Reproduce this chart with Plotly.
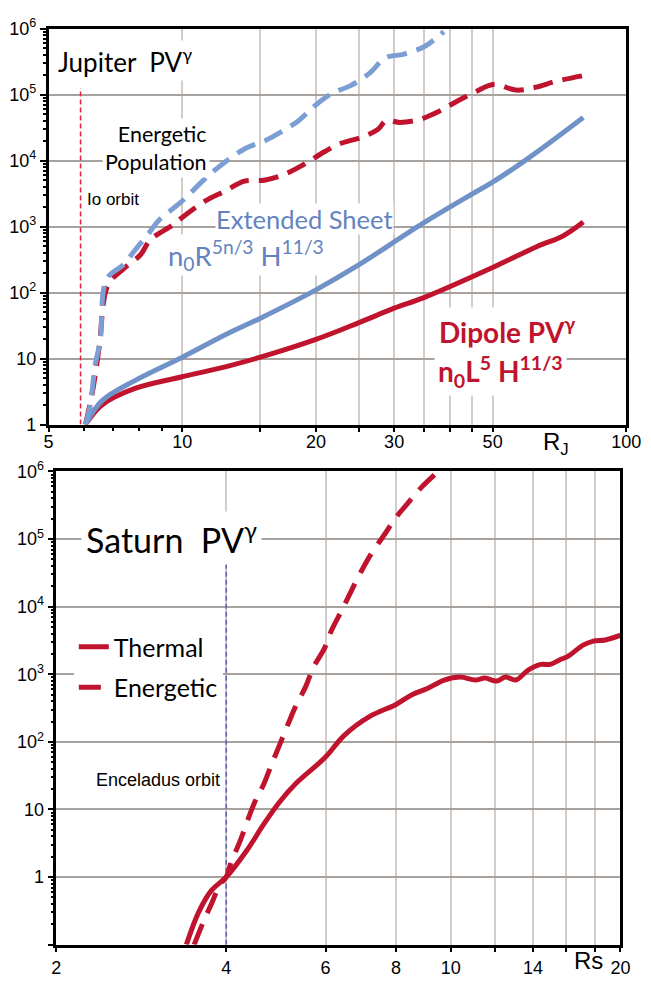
import math
import plotly.graph_objects as go

W, H = 651, 984

# ---------------- Jupiter (radial distance in R_J, PV^gamma normalised at Io) ----------------
io_orbit_rj = 5.9
io_line_pv = [1, 1.25e5]

jup_dipole_r = [6.05, 6.6, 7.8, 10, 12.5, 15, 20, 25, 30, 35, 50, 63, 72, 80]
jup_dipole_pv = [1, 2.0, 3.5, 5.3, 7.5, 10.5, 19.5, 35, 58, 84, 240, 500, 720, 1170]

jup_sheet_r = [6.05, 6.6, 7.8, 10, 12.5, 15, 20, 24.7, 34.6, 45, 50, 60, 80]
jup_sheet_pv = [1, 2.3, 4.6, 10.5, 23, 41, 110, 251, 1090, 3130, 4720, 10700, 44900]

jup_energetic_sheet_r = [6.05, 6.2, 6.37, 6.53, 6.76, 7.4, 7.78, 8.35, 8.9, 9.9, 11.6, 13.8,
                         15.3, 16.8, 18.3, 20, 21.8, 24, 26.5, 28.6, 31.6, 35.2, 38.8]
jup_energetic_sheet_pv = [1, 1.9, 8.3, 18, 161, 270, 419, 748, 1290, 2300, 6400, 15000,
                          19800, 27800, 40500, 70000, 105000, 138000, 215000, 359000,
                          412000, 541000, 903000]

jup_energetic_dipole_r = [6.05, 6.27, 6.5, 6.8, 7.36, 8.06, 8.47, 9.5, 10.2, 11.3, 12.5, 13.8,
                          15.3, 16.8, 18.6, 20.9, 22.6, 25.4, 27.6, 28.8, 30.9, 34.2, 37.7,
                          41.3, 45.6, 50.5, 56.4, 62.4, 69.2, 80]
jup_energetic_dipole_pv = [1, 3, 15, 130, 227, 378, 631, 1050, 1530, 2470, 3470, 4890,
                           5050, 6000, 8430, 13600, 17900, 22700, 29800, 40500, 37800, 41900,
                           55000, 77400, 109000, 143000, 117000, 129000, 158000, 194000]

jup_x_ticks = [5, 10, 15, 20, 25, 30, 35, 40, 45, 50, 100]
jup_x_labels = ["5", "10", "", "20", "", "30", "", "", "", "50", "100"]
jup_x_minor = [6, 7, 8, 9]

# ---------------- Saturn (radial distance in R_S) ----------------
enceladus_orbit_rs = 4.0
enceladus_line_pv = [0.1, 4.6e4]

sat_thermal_r = [3.40, 3.58, 3.77, 4.0, 4.36, 4.66, 4.97, 5.31, 6.0, 6.47, 7.2, 8.0, 8.54,
                 9.07, 9.74, 10.4, 11.05, 11.5, 12.06, 12.5, 13.05, 13.7, 14.46, 15.0,
                 15.65, 16.1, 17.2, 17.9, 18.8, 20]
sat_thermal_pv = [0.1, 0.31, 0.64, 1.0, 2.54, 6.0, 12.8, 24, 59.6, 124, 240, 358, 499,
                  610, 822, 908, 822, 879, 795, 908, 822, 1146, 1400, 1400,
                  1652, 1824, 2720, 3100, 3220, 3790]

sat_energetic_r = [3.51, 3.65, 3.77, 3.9, 4.0, 4.08, 4.22, 4.48, 4.66, 4.81, 4.97, 5.15,
                   5.31, 5.53, 5.71, 5.98, 6.15, 6.43, 6.66, 6.95, 7.24, 7.65, 7.96, 8.44,
                   8.89, 9.5]
sat_energetic_pv = [0.1, 0.224, 0.41, 0.77, 1.0, 1.65, 3.2, 12.1, 23.5, 45.7, 88.7, 184,
                    335, 651, 1266, 2460, 4480, 9290, 16900, 34000, 61800, 120000, 198000,
                    359000, 592000, 1.0e6]

sat_x_ticks = [2, 4, 6, 8, 10, 12, 14, 16, 18, 20]
sat_x_labels = ["2", "4", "6", "8", "10", "", "14", "", "", "20"]

decades_jup = [1, 10, 100, 1e3, 1e4, 1e5, 1e6]
decades_sat = [0.1, 1, 10, 100, 1e3, 1e4, 1e5, 1e6]
decade_labels_sat = ["", "1", "10", "10<sup>2</sup>", "10<sup>3</sup>", "10<sup>4</sup>",
                     "10<sup>5</sup>", "10<sup>6</sup>"]
decade_labels_jup = decade_labels_sat[1:]

# ---------------- styling ----------------
RED = "#c0142e"
IO_RED = "#e3203d"
BLUE = "#7092c6"
BLUE_D = "#7b9ed4"
TEXT_BLUE = "#6383c0"
ENC_BLUE = "#5b5fb3"
GRID_H = "#a7a29e"
GRID_V = "#d2cdca"
SANS = "Liberation Sans, Arial, sans-serif"
HUMANIST = "Lato, Open Sans, sans-serif"


def fx(p):
    return p / W


def fy(p):
    return 1 - p / H


def minor_log(lo, hi):
    vals = []
    for e in range(lo, hi):
        for k in range(2, 10):
            vals.append(k * 10 ** e)
    return vals


fig = go.Figure()

spl = dict(shape="spline", smoothing=1.0)

# Jupiter panel
fig.add_trace(go.Scatter(x=[io_orbit_rj, io_orbit_rj], y=io_line_pv, mode="lines",
                         line=dict(color=IO_RED, width=1.5, dash="5px,3px"),
                         xaxis="x", yaxis="y", showlegend=False))
fig.add_trace(go.Scatter(x=jup_energetic_dipole_r, y=jup_energetic_dipole_pv, mode="lines",
                         line=dict(color=RED, width=5, dash="20px,10px", **spl),
                         xaxis="x", yaxis="y", showlegend=False))
fig.add_trace(go.Scatter(x=jup_dipole_r, y=jup_dipole_pv, mode="lines",
                         line=dict(color=RED, width=5, **spl),
                         xaxis="x", yaxis="y", showlegend=False))
fig.add_trace(go.Scatter(x=jup_sheet_r, y=jup_sheet_pv, mode="lines",
                         line=dict(color=BLUE, width=5, **spl),
                         xaxis="x", yaxis="y", showlegend=False))
fig.add_trace(go.Scatter(x=jup_energetic_sheet_r, y=jup_energetic_sheet_pv, mode="lines",
                         line=dict(color=BLUE_D, width=5, dash="20px,10px", **spl),
                         xaxis="x", yaxis="y", showlegend=False))

# Saturn panel
fig.add_trace(go.Scatter(x=[enceladus_orbit_rs, enceladus_orbit_rs], y=enceladus_line_pv,
                         mode="lines", line=dict(color=ENC_BLUE, width=1.5, dash="5px,3px"),
                         xaxis="x2", yaxis="y2", showlegend=False))
fig.add_trace(go.Scatter(x=sat_thermal_r, y=sat_thermal_pv, mode="lines", name="Thermal",
                         legendgroup="thermal",
                         line=dict(color=RED, width=5, **spl),
                         xaxis="x2", yaxis="y2"))
fig.add_trace(go.Scatter(x=sat_energetic_r, y=sat_energetic_pv, mode="lines", name="Energetic",
                         legendgroup="energetic",
                         line=dict(color=RED, width=5, dash="22px,12px", **spl),
                         xaxis="x2", yaxis="y2"))

tick_font = dict(family=SANS, size=18, color="black")
axis_common = dict(type="log", showline=True, linecolor="black", linewidth=2.5, mirror=True,
                   ticks="outside", tickwidth=2, tickcolor="black", tickfont=tick_font,
                   zeroline=False, showgrid=True, gridwidth=2)

fig.update_layout(
    width=W, height=H, margin=dict(l=0, r=0, t=0, b=0),
    paper_bgcolor="white", plot_bgcolor="white",
    xaxis=dict(axis_common, domain=[fx(45), fx(641)], range=[math.log10(5), 2], anchor="y",
               tickmode="array", tickvals=jup_x_ticks, ticktext=jup_x_labels, ticklen=5,
               ticklabelstandoff=-6, gridcolor=GRID_V,
               minor=dict(tickvals=jup_x_minor, ticks="outside", ticklen=4, tickwidth=1.5,
                          tickcolor="black", showgrid=False)),
    yaxis=dict(axis_common, domain=[fy(422), fy(17)], range=[0, 6], anchor="x",
               tickmode="array", tickvals=decades_jup, ticktext=decade_labels_jup, ticklen=6,
               gridcolor=GRID_H,
               minor=dict(tickvals=minor_log(0, 6), ticks="outside", ticklen=3, tickwidth=1.5,
                          tickcolor="black", showgrid=False)),
    xaxis2=dict(axis_common, domain=[fx(53), fx(635)], range=[math.log10(2), math.log10(20)],
                anchor="y2", tickmode="array", tickvals=sat_x_ticks, ticktext=sat_x_labels,
                ticklen=5, gridcolor=GRID_V),
    yaxis2=dict(axis_common, domain=[fy(954), fy(470)], range=[-1, 6], anchor="x2",
                tickmode="array", tickvals=decades_sat, ticktext=decade_labels_sat, ticklen=6,
                gridcolor=GRID_H,
                minor=dict(tickvals=minor_log(-1, 6), ticks="outside", ticklen=3,
                           tickwidth=1.5, tickcolor="black", showgrid=False)),
    legend=dict(x=fx(71), y=fy(626), xanchor="left", yanchor="top", bgcolor="white",
                font=dict(family=HUMANIST, size=25, color="black"),
                traceorder="grouped", tracegroupgap=5, itemwidth=30),
)


def note(text, x, y, size, color="black", family=HUMANIST, xanchor="left", bg=None,
         align="left", pad=2):
    fig.add_annotation(text=text, x=fx(x), y=fy(y), xref="paper", yref="paper",
                       xanchor=xanchor, yanchor="middle", showarrow=False, align=align,
                       font=dict(family=family, size=size, color=color),
                       bgcolor=bg, borderpad=pad)


# Jupiter labels
note("Jupiter\u00a0\u00a0PV<sup>γ</sup>", 52, 50, 26, bg="white")
note("Energetic<br>Population", 212, 139, 21.5, xanchor="right", align="right", bg="white")
note("Io orbit", 81, 192, 17, family=SANS)
note("Extended Sheet", 217, 212, 25.5, color=TEXT_BLUE, bg="white", pad=0)
note("n<sub>0</sub>R<sup>5n/3</sup> H<sup>11/3</sup>", 167, 249, 27.5, color=TEXT_BLUE,
     bg="white", pad=0)
note("<b>Dipole PV<sup>γ</sup></b>", 443, 326, 28, color=RED, bg="white", pad=4)
note("<b>n<sub>0</sub>L<sup>5</sup> H<sup>11/3</sup></b>", 443, 368, 28, color=RED, bg="white",
     pad=3)
note("R<sub>J</sub>", 568, 441, 24, family=SANS, xanchor="center")

# Saturn labels
note("Saturn\u00a0\u00a0PV<sup>γ</sup>", 78, 538, 34, bg="white", pad=4)
note("Enceladus orbit", 225, 786, 18, family=SANS, xanchor="right")
note("Rs", 602, 970, 24, family=SANS, xanchor="center")

fig.write_html("out.html")
